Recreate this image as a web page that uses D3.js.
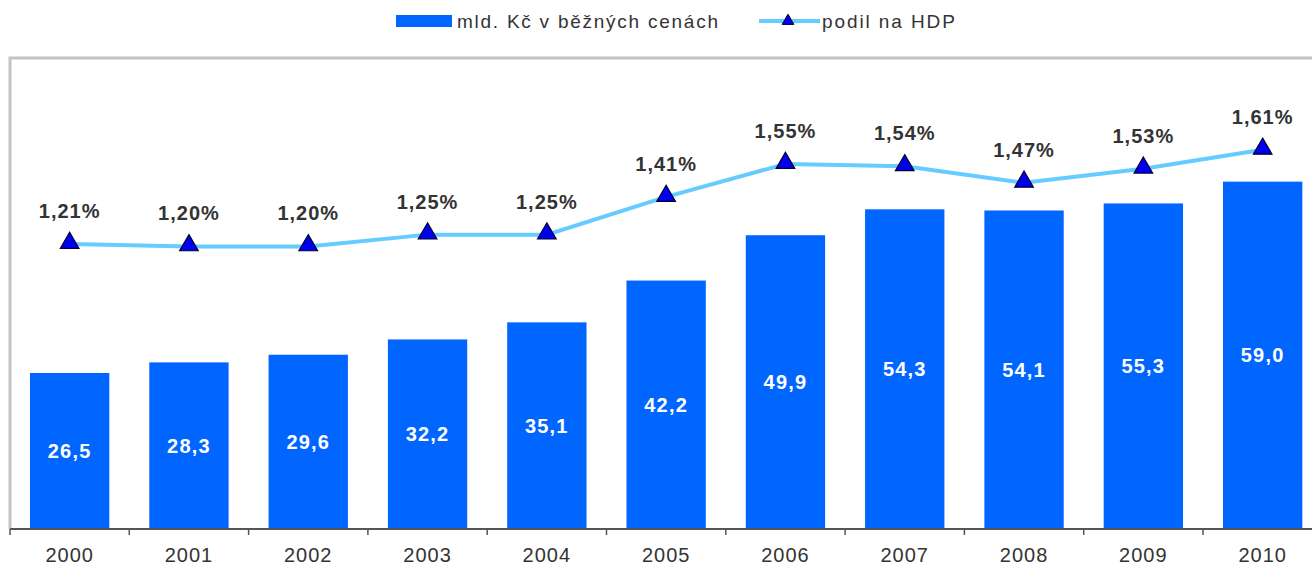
<!DOCTYPE html>
<html>
<head>
<meta charset="utf-8">
<script src="https://cdn.jsdelivr.net/npm/d3@7"></script>
<style>
  body { margin: 0; background: #fff; }
  text { font-family: "Liberation Sans", Arial, sans-serif; }
</style>
</head>
<body>
<svg id="chart" width="1312" height="567"></svg>
<script>
// data
var years = ["2000", "2001", "2002", "2003", "2004", "2005", "2006", "2007", "2008", "2009", "2010"];
var amounts = [26.5, 28.3, 29.6, 32.2, 35.1, 42.2, 49.9, 54.3, 54.1, 55.3, 59.0];
var shares = [1.21, 1.20, 1.20, 1.25, 1.25, 1.41, 1.55, 1.54, 1.47, 1.53, 1.61];

var barName = "mld. Kč v běžných cenách";
var lineName = "podil na HDP";

var svg = d3.select("#chart");

var plotLeft = 10, plotTop = 58, plotBottom = 529;
var bandW = 119.3;
var plotRight = plotLeft + years.length * bandW;

var fmt = function(v, d) { return v.toFixed(d).replace(".", ","); };

var x = d3.scaleBand().domain(years).range([plotLeft, plotRight]).paddingInner(0.335).paddingOuter(0.1675);
var y = d3.scaleLinear().domain([0, 80]).range([plotBottom, plotTop]);
var y2 = d3.scaleLinear().domain([0, 2]).range([plotBottom, plotTop]);

// frame (top and left)
svg.append("path")
  .attr("d", `M${plotLeft},${plotBottom} V${plotTop} H1312`)
  .attr("fill", "none").attr("stroke", "#c4c4c4").attr("stroke-width", 3);

// bars
svg.selectAll("rect.bar").data(amounts).enter().append("rect")
  .attr("class", "bar")
  .attr("x", function(d, i) { return x(years[i]); })
  .attr("width", x.bandwidth())
  .attr("y", function(d) { return y(d); })
  .attr("height", function(d) { return plotBottom - y(d); })
  .attr("fill", "#0066ff");

svg.selectAll("text.barlabel").data(amounts).enter().append("text")
  .attr("class", "barlabel")
  .attr("x", function(d, i) { return x(years[i]) + x.bandwidth() / 2; })
  .attr("y", function(d) { return (y(d) + plotBottom) / 2; })
  .attr("dy", "0.35em")
  .attr("text-anchor", "middle")
  .attr("font-size", 20).attr("font-weight", "bold").attr("letter-spacing", 1.2)
  .attr("fill", "#fff")
  .text(function(d) { return fmt(d, 1); });

// x axis, ticks between categories
var xAxis = svg.append("g").attr("transform", `translate(0,${plotBottom})`);
xAxis.append("line").attr("x1", plotLeft).attr("x2", 1312).attr("stroke", "#555").attr("stroke-width", 2);
xAxis.selectAll("line.tick").data(d3.range(years.length + 1)).enter().append("line")
  .attr("class", "tick")
  .attr("x1", function(i) { return plotLeft + i * bandW; })
  .attr("x2", function(i) { return plotLeft + i * bandW; })
  .attr("y1", 0).attr("y2", 6)
  .attr("stroke", "#555").attr("stroke-width", 1.5);
xAxis.selectAll("text").data(years).enter().append("text")
  .attr("x", function(d) { return x(d) + x.bandwidth() / 2; })
  .attr("y", 26)
  .attr("dy", "0.35em")
  .attr("text-anchor", "middle")
  .attr("font-size", 20).attr("letter-spacing", 1).attr("fill", "#333")
  .text(function(d) { return d; });

// line
var line = d3.line()
  .x(function(d, i) { return x(years[i]) + x.bandwidth() / 2; })
  .y(function(d) { return y2(d); });

svg.append("path").datum(shares)
  .attr("d", line)
  .attr("fill", "none").attr("stroke", "#66ccff").attr("stroke-width", 4);

var tri = d3.symbol().type(d3.symbolTriangle).size(150);
svg.selectAll("path.pt").data(shares).enter().append("path")
  .attr("class", "pt")
  .attr("d", tri)
  .attr("transform", function(d, i) { return `translate(${x(years[i]) + x.bandwidth() / 2},${y2(d) - 1})`; })
  .attr("fill", "#0000ee").attr("stroke", "#000033").attr("stroke-width", 1.2);

svg.selectAll("text.pct").data(shares).enter().append("text")
  .attr("class", "pct")
  .attr("x", function(d, i) { return x(years[i]) + x.bandwidth() / 2; })
  .attr("y", function(d) { return y2(d) - 33; })
  .attr("dy", "0.35em")
  .attr("text-anchor", "middle")
  .attr("font-size", 20).attr("font-weight", "bold").attr("letter-spacing", 1)
  .attr("fill", "#333")
  .text(function(d) { return fmt(d, 2) + "%"; });

// legend
var lg = svg.append("g").attr("transform", "translate(0,21)");
lg.append("rect").attr("x", 396).attr("y", -6).attr("width", 56).attr("height", 12).attr("fill", "#0066ff");
lg.append("text").attr("x", 457).attr("y", 0).attr("dy", "0.35em")
  .attr("font-size", 19).attr("letter-spacing", 1.75).attr("fill", "#333").text(barName);
lg.append("line").attr("x1", 759).attr("x2", 820).attr("y1", 0).attr("y2", 0)
  .attr("stroke", "#66ccff").attr("stroke-width", 4);
lg.append("path").attr("d", d3.symbol().type(d3.symbolTriangle).size(60))
  .attr("transform", "translate(788,0)")
  .attr("fill", "#0000ee").attr("stroke", "#000033").attr("stroke-width", 1);
lg.append("text").attr("x", 822).attr("y", 0).attr("dy", "0.35em")
  .attr("font-size", 19).attr("letter-spacing", 1.9).attr("fill", "#333").text(lineName);
</script>
</body>
</html>
